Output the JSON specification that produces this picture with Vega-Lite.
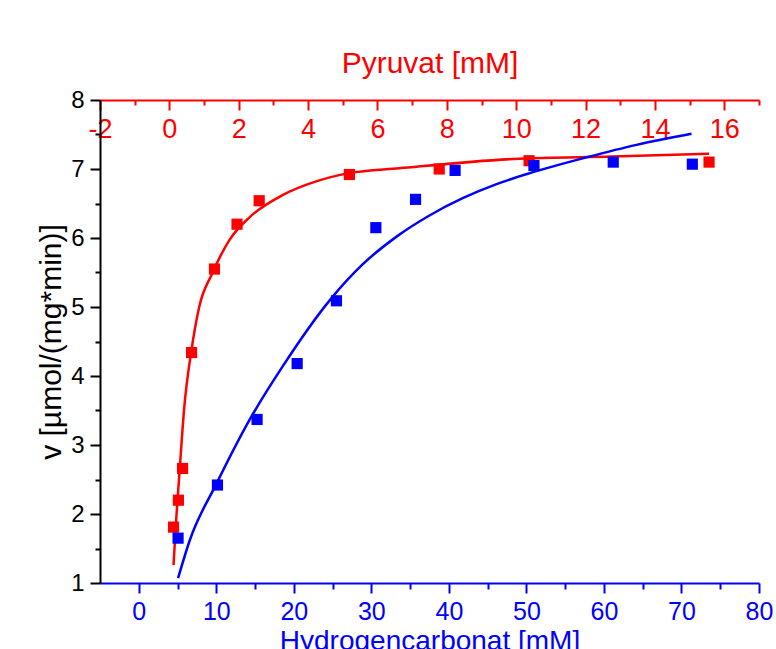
{
  "$schema": "https://vega.github.io/schema/vega-lite/v6.json",
  "width": 659,
  "height": 483,
  "autosize": {"type": "none"},
  "padding": {"left": 100, "top": 100, "right": 17, "bottom": 66},
  "background": "white",
  "config": {
    "view": {"stroke": null},
    "font": "Liberation Sans",
    "axis": {
      "grid": false,
      "labelFont": "Liberation Sans",
      "titleFont": "Liberation Sans",
      "titleFontWeight": "normal",
      "labelFlush": false,
      "labelOverlap": false,
      "domainWidth": 2,
      "tickWidth": 2
    }
  },
  "datasets": {
    "hco3_points": [
      {"c": 5.07, "v": 1.65},
      {"c": 10.15, "v": 2.42},
      {"c": 15.26, "v": 3.37},
      {"c": 20.43, "v": 4.18},
      {"c": 25.5, "v": 5.09},
      {"c": 30.58, "v": 6.15},
      {"c": 35.7, "v": 6.56},
      {"c": 40.8, "v": 6.98},
      {"c": 50.97, "v": 7.05},
      {"c": 61.2, "v": 7.1},
      {"c": 71.4, "v": 7.07}
    ],
    "hco3_fit": [
      {"c": 5.07, "v": 1.07},
      {"c": 6.58, "v": 1.62},
      {"c": 10.03, "v": 2.44},
      {"c": 14.32, "v": 3.37},
      {"c": 18.62, "v": 4.15},
      {"c": 24.65, "v": 5.1},
      {"c": 28.9, "v": 5.62},
      {"c": 33.25, "v": 6.02},
      {"c": 37.55, "v": 6.33},
      {"c": 41.85, "v": 6.58},
      {"c": 46.15, "v": 6.78},
      {"c": 50.45, "v": 6.94},
      {"c": 57.8, "v": 7.17},
      {"c": 64.2, "v": 7.35},
      {"c": 71.3, "v": 7.51}
    ],
    "pyr_points": [
      {"c": 0.12, "v": 1.81},
      {"c": 0.26, "v": 2.2},
      {"c": 0.38, "v": 2.66},
      {"c": 0.64, "v": 4.34},
      {"c": 1.3, "v": 5.55},
      {"c": 1.95, "v": 6.2},
      {"c": 2.59, "v": 6.54},
      {"c": 5.19, "v": 6.92},
      {"c": 7.78, "v": 7.0},
      {"c": 10.37, "v": 7.12},
      {"c": 15.56, "v": 7.1}
    ],
    "pyr_fit": [
      {"c": 0.12, "v": 1.26},
      {"c": 0.19, "v": 1.87},
      {"c": 0.29, "v": 2.59},
      {"c": 0.43, "v": 3.55},
      {"c": 0.63, "v": 4.35},
      {"c": 0.86, "v": 5.0},
      {"c": 1.24, "v": 5.49},
      {"c": 1.73, "v": 5.97},
      {"c": 2.31, "v": 6.3},
      {"c": 3.26, "v": 6.62},
      {"c": 4.23, "v": 6.82},
      {"c": 5.19, "v": 6.94},
      {"c": 6.63, "v": 7.01},
      {"c": 10.09, "v": 7.15},
      {"c": 12.77, "v": 7.18},
      {"c": 15.56, "v": 7.22}
    ]
  },
  "encoding": {
    "y": {
      "field": "v",
      "type": "quantitative",
      "scale": {"domain": [1, 8], "nice": false, "zero": false},
      "axis": {
        "orient": "left",
        "values": [1, 1.5, 2, 2.5, 3, 3.5, 4, 4.5, 5, 5.5, 6, 6.5, 7, 7.5, 8],
        "labelExpr": "datum.value % 1 === 0 ? '' + datum.value : ''",
        "tickSize": {"condition": {"test": "datum.value % 1 === 0", "value": 10}, "value": 5},
        "labelFontSize": 24,
        "labelColor": "black",
        "labelPadding": 6,
        "domainColor": "black",
        "tickColor": "black",
        "title": "v [µmol/(mg*min)]",
        "titleFontSize": 30,
        "titleColor": "black",
        "titlePadding": 4
      }
    }
  },
  "layer": [
    {
      "encoding": {
        "x": {
          "field": "c",
          "type": "quantitative",
          "scale": {"domain": [-2, 17], "nice": false, "zero": false},
          "axis": {
            "orient": "top",
            "values": [-2, -1, 0, 1, 2, 3, 4, 5, 6, 7, 8, 9, 10, 11, 12, 13, 14, 15, 16, 17],
            "labelExpr": "datum.value % 2 === 0 ? '' + datum.value : ''",
            "tickSize": {"condition": {"test": "datum.value % 2 === 0", "value": -10}, "value": -5},
            "labelBaseline": "top",
            "labelPadding": -6,
            "labelFontSize": 27,
            "labelColor": "#ff0000",
            "domainColor": "#ff0000",
            "tickColor": "#ff0000",
            "title": "Pyruvat [mM]",
            "titleFontSize": 30,
            "titleColor": "#ff0000",
            "titlePadding": 21
          }
        }
      },
      "layer": [
        {
          "data": {"name": "pyr_fit"},
          "mark": {"type": "line", "color": "#ff0000", "strokeWidth": 2.5, "interpolate": "monotone"}
        },
        {
          "data": {"name": "pyr_points"},
          "mark": {"type": "point", "shape": "square", "filled": true, "color": "#ff0000", "size": 125, "opacity": 1}
        }
      ]
    },
    {
      "encoding": {
        "x": {
          "field": "c",
          "type": "quantitative",
          "scale": {"domain": [-5, 80], "nice": false, "zero": false},
          "axis": {
            "orient": "bottom",
            "values": [0, 5, 10, 15, 20, 25, 30, 35, 40, 45, 50, 55, 60, 65, 70, 75, 80],
            "labelExpr": "datum.value % 10 === 0 ? '' + datum.value : ''",
            "tickSize": {"condition": {"test": "datum.value % 10 === 0", "value": 10}, "value": 6},
            "labelFontSize": 25,
            "labelColor": "#0000ff",
            "labelPadding": 6,
            "domainColor": "#0000ff",
            "tickColor": "#0000ff",
            "title": "Hydrogencarbonat [mM]",
            "titleFontSize": 28,
            "titleColor": "#0000ff",
            "titlePadding": 3
          }
        }
      },
      "layer": [
        {
          "data": {"name": "hco3_fit"},
          "mark": {"type": "line", "color": "#0000ff", "strokeWidth": 2.5, "interpolate": "monotone"}
        },
        {
          "data": {"name": "hco3_points"},
          "mark": {"type": "point", "shape": "square", "filled": true, "color": "#0000ff", "size": 125, "opacity": 1}
        }
      ]
    }
  ],
  "resolve": {"scale": {"x": "independent"}, "axis": {"x": "independent"}}
}
